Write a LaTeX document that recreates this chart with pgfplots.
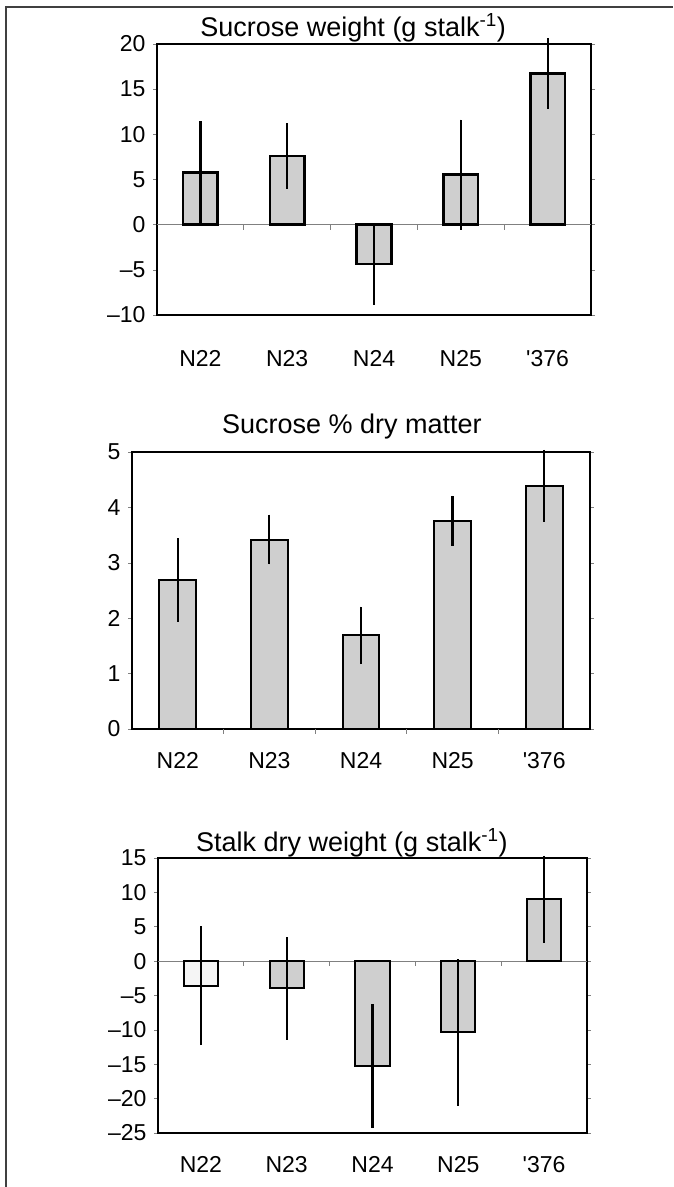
\documentclass[border=0pt]{standalone}
\usepackage{fontspec}
\setmainfont{Liberation Sans}
\usepackage{pgfplots}
\pgfplotsset{compat=1.18}
\pgfplotstableread{
x y e
0 5.76 5.7
1 7.6 3.65
2 -4.35 4.5
3 5.53 6.1
4 16.75 3.9
}\sucw
\pgfplotstableread{
x y e
0 2.69 0.75
1 3.42 0.45
2 1.69 0.52
3 3.76 0.45
4 4.39 0.65
}\sucdm
\pgfplotstableread{
x y e
1 -3.95 7.45
2 -15.3 9.0
3 -10.35 10.65
4 9.0 6.3
}\stalk
\pgfplotstableread{
x y e
0 -3.55 8.65
}\stalkA
\pgfplotsset{
  panel/.style={
    scale only axis, anchor=north west,
    xmin=-0.5, xmax=4.5,
    xtick={0,...,4},
    xticklabels={N22,N23,N24,N25,\textquotesingle376},
    xtick style={draw=none},
    ytick style={draw=gray, line width=0.6pt},
    major tick length=4pt, tick align=outside,
    axis line style={line width=1.5pt},
    every axis/.append style={font=\fontsize{23}{27}\selectfont},
    tick label style={font=\fontsize{23}{27}\selectfont},
    /pgf/number format/assume math mode=true,
    yticklabel style={xshift=-4pt},
    xticklabel style={yshift=-16pt},
    title style={font=\fontsize{27}{32}\selectfont, anchor=base},
    clip=false,
    bar width=0.4, bar shift=0pt,
  },
  bars/.style={ybar, draw=black,
    error bars/.cd, y dir=both, y explicit, error mark=none,
    error bar style={line width=2.2pt, black}},
}
\begin{document}
\begin{tikzpicture}
\path[use as bounding box] (0,0) rectangle (673pt,-1187pt);
\draw[line width=1.2pt, black!75] (6pt,-1187pt) -- (6pt,-7pt) -- (673pt,-7pt);

% Panel 1
\begin{axis}[panel, at={(157pt,-44pt)}, width=434pt, height=271pt,
  ymin=-10, ymax=20, ytick={-10,-5,...,20},
  yticklabels={\textendash10,\textendash5,0,5,10,15,20},
  xticklabel style={yshift=-12pt},
  title={Sucrose weight (g stalk\textsuperscript{-1})},
  title style={at={(0.452,1)}, yshift=2pt}]
\draw[gray, line width=0.8pt] (axis cs:-0.5,0) -- (axis cs:4.5,0);
\pgfplotsinvokeforeach{0.5,1.5,2.5,3.5}{\draw[gray, line width=0.8pt] (axis cs:#1,0) -- ++(0pt,-5pt);}
\addplot[fill=gray!38, line width=2.6pt, bars] table[x=x, y=y, y error=e]{\sucw};
\end{axis}

% Panel 2
\begin{axis}[panel, at={(132pt,-452pt)}, width=458pt, height=277pt,
  ymin=0, ymax=5, ytick={0,...,5},
  title={Sucrose \% dry matter},
  title style={at={(0.48,1)}, yshift=13pt}]
\pgfplotsinvokeforeach{0.5,1.5,2.5,3.5}{\draw[gray, line width=0.8pt] (axis cs:#1,0) -- ++(0pt,-5pt);}
\addplot[fill=gray!38, line width=2pt, bars] table[x=x, y=y, y error=e]{\sucdm};
\end{axis}

% Panel 3
\begin{axis}[panel, at={(158pt,-858pt)}, width=429pt, height=275pt,
  ymin=-25, ymax=15, ytick={-25,-20,...,15},
  yticklabels={\textendash25,\textendash20,\textendash15,\textendash10,\textendash5,0,5,10,15},
  title={Stalk dry weight (g stalk\textsuperscript{-1})},
  title style={at={(0.452,1)}, yshift=1pt}]
\draw[gray, line width=0.8pt] (axis cs:-0.5,0) -- (axis cs:4.5,0);
\pgfplotsinvokeforeach{0.5,1.5,2.5,3.5}{\draw[gray, line width=0.8pt] (axis cs:#1,0) -- ++(0pt,-5pt);}
\addplot[fill=gray!8, line width=2pt, bars] table[x=x, y=y, y error=e]{\stalkA};
\addplot[fill=gray!38, line width=2pt, bars] table[x=x, y=y, y error=e]{\stalk};
\end{axis}
\end{tikzpicture}
\end{document}
